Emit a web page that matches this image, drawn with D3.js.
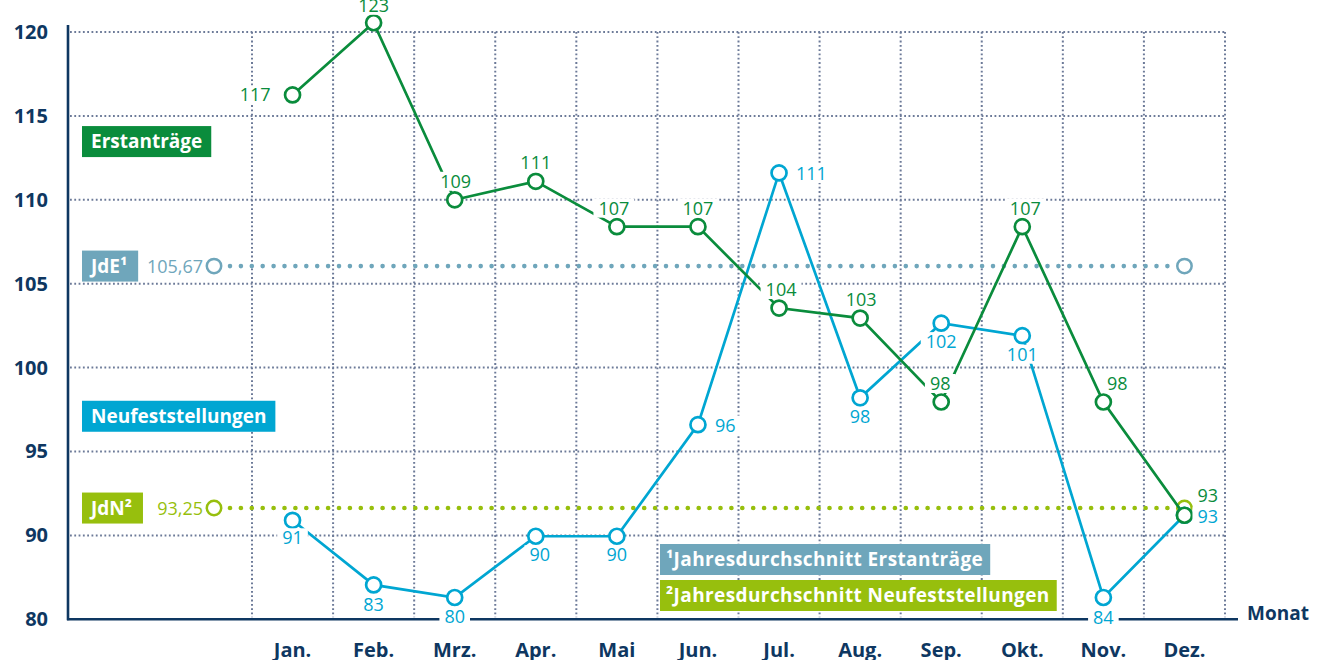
<!DOCTYPE html>
<html>
<head>
<meta charset="utf-8">
<script src="https://cdn.jsdelivr.net/npm/d3@7"></script>
<style>
  body { margin: 0; background: #fff; }
  svg { display: block; }
</style>
</head>
<body>
<svg></svg>
<script>

// data
const months = ["Jan.", "Feb.", "Mrz.", "Apr.", "Mai", "Jun.", "Jul.", "Aug.", "Sep.", "Okt.", "Nov.", "Dez."];

// printed value labels
const erstLabels = [117, 123, 109, 111, 107, 107, 104, 103, 98, 107, 98, 93];
const neuLabels = [91, 83, 80, 90, 90, 96, 111, 98, 102, 101, 84, 93];

// where the points actually sit against the axis
const erstPlot = [116.25, 120.55, 110.0, 111.1, 108.4, 108.4, 103.55, 102.95, 97.95, 108.4, 97.95, 91.2];
const neuPlot = [90.9, 87.05, 86.3, 89.95, 89.95, 96.6, 111.6, 98.2, 102.65, 101.9, 86.3, 91.2];

// yearly averages (JdE, JdN)
const avgNames = ["JdE\u00b9", "JdN\u00b2"];
const avgLabels = ["105,67", "93,25"];
const avgPlot = [106.05, 91.63];

const yTicks = [85, 90, 95, 100, 105, 110, 115, 120];
const yTickLabels = ["80", "90", "95", "100", "105", "110", "115", "120"];

const footnotes = ["\u00b9Jahresdurchschnitt Erstanträge", "\u00b2Jahresdurchschnitt Neufeststellungen"];


const w = 1327;
const h = 660;
const font = "'Open Sans', 'Noto Sans', sans-serif";

const navy = "#0e3761";
const gridCol = "#6c7a98";
const green = "#0a8c3c";
const cyan = "#00a6d2";
const teal = "#6fa6bb";
const lime = "#97bf0d";

let svg = d3.select("svg")
    .attr("width", w)
    .attr("height", h)
    .style("font-family", font);

let x = d3.scaleBand()
    .domain(months)
    .range([252, 1225]);

let y = d3.scaleLinear()
    .domain([85, 120])
    .range([619.3, 32]);

const cx = m => x(m) + x.bandwidth() / 2;


// dotted grid
svg.append("g")
   .selectAll("line")
   .data(yTicks.slice(1))
   .join("line")
   .attr("x1", 70)
   .attr("x2", x.range()[1])
   .attr("y1", d => y(d))
   .attr("y2", d => y(d))
   .attr("stroke", gridCol)
   .attr("stroke-width", 2)
   .attr("stroke-dasharray", "1.8 2.5");

svg.append("g")
   .selectAll("line")
   .data(months.map(m => x(m)).concat([x.range()[1]]))
   .join("line")
   .attr("x1", d => d)
   .attr("x2", d => d)
   .attr("y1", y(120))
   .attr("y2", y(85) - 2)
   .attr("stroke", gridCol)
   .attr("stroke-width", 2)
   .attr("stroke-dasharray", "1.8 2.5");


// axes
let yAxis = d3.axisLeft(y)
    .tickValues(yTicks)
    .tickFormat((d, i) => yTickLabels[i])
    .tickSize(0)
    .tickPadding(20);

svg.append("g")
   .attr("transform", "translate(68,0)")
   .call(yAxis)
   .call(g => g.select(".domain").remove())
   .attr("font-family", font)
   .attr("font-size", 20)
   .attr("font-weight", 700)
   .selectAll("text")
   .attr("fill", navy);

let xAxis = d3.axisBottom(x)
    .tickSize(0)
    .tickPadding(24);

svg.append("g")
   .attr("transform", `translate(0,${y(85)})`)
   .call(xAxis)
   .call(g => g.select(".domain").remove())
   .attr("font-family", font)
   .attr("font-size", 20)
   .attr("font-weight", 700)
   .selectAll("text")
   .attr("fill", navy);

svg.append("line")
   .attr("x1", 68).attr("x2", 68)
   .attr("y1", 25).attr("y2", y(85) + 1)
   .attr("stroke", navy).attr("stroke-width", 2.6);

svg.append("line")
   .attr("x1", 67).attr("x2", 1238)
   .attr("y1", y(85)).attr("y2", y(85))
   .attr("stroke", navy).attr("stroke-width", 2.6);

svg.append("text")
   .attr("x", 1247)
   .attr("y", 620)
   .attr("font-size", 19)
   .attr("font-weight", 700)
   .attr("fill", navy)
   .text("Monat");


// coloured tags
const tag = (x0, yc, color, txt, size) => {
    let g = svg.append("g");
    let r = g.append("rect").attr("fill", color);
    let t = g.append("text")
             .attr("x", x0 + 9)
             .attr("y", yc)
             .attr("dy", "0.36em")
             .attr("font-size", size)
             .attr("font-weight", 700)
             .attr("fill", "#fff")
             .text(txt);
    let bb = t.node().getBBox();
    r.attr("x", x0)
     .attr("y", yc - 15.5)
     .attr("width", bb.width + 18)
     .attr("height", 31);
    return g;
};


// yearly average lines
const avgCols = [teal, lime];

avgPlot.forEach((v, i) => {
    let yy = y(v);
    let xl = 214;
    let xr = cx(months[months.length - 1]);

    svg.append("line")
       .attr("x1", xl + 16)
       .attr("x2", xr - 14)
       .attr("y1", yy)
       .attr("y2", yy)
       .attr("stroke", avgCols[i])
       .attr("stroke-width", 4.6)
       .attr("stroke-linecap", "round")
       .attr("stroke-dasharray", "0 10.9");

    svg.selectAll(null)
       .data([xl, xr])
       .enter()
       .append("circle")
       .attr("cx", d => d)
       .attr("cy", yy)
       .attr("r", 7.2)
       .attr("fill", "#fff")
       .attr("stroke", avgCols[i])
       .attr("stroke-width", 2.5);

    svg.append("text")
       .attr("x", xl - 11)
       .attr("y", yy)
       .attr("dy", "0.36em")
       .attr("text-anchor", "end")
       .attr("font-size", 18)
       .attr("fill", avgCols[i])
       .text(avgLabels[i]);

    tag(82, yy, avgCols[i], avgNames[i], 19);
});

tag(82, y(113.47), green, "Erstanträge", 19);
tag(82, y(97.1), cyan, "Neufeststellungen", 19);

// footnote boxes
footnotes.forEach((f, i) => {
    let g = tag(660, 559.5 + i * 36, [teal, lime][i], f, 19);
    g.select("text").attr("x", 666).attr("letter-spacing", 0.4);
    let bb = g.select("text").node().getBBox();
    g.select("rect").attr("width", bb.width + 13);
});


// series lines
let line = d3.line()
    .x((d, i) => cx(months[i]))
    .y(d => y(d));

svg.append("path")
   .datum(neuPlot)
   .attr("d", line)
   .attr("fill", "none")
   .attr("stroke", cyan)
   .attr("stroke-width", 2.7);

svg.append("path")
   .datum(erstPlot)
   .attr("d", line)
   .attr("fill", "none")
   .attr("stroke", green)
   .attr("stroke-width", 2.7);


// markers
const markers = (vals, color) => {
    svg.append("g")
       .selectAll("circle")
       .data(vals)
       .join("circle")
       .attr("cx", (d, i) => cx(months[i]))
       .attr("cy", d => y(d))
       .attr("r", 7.5)
       .attr("fill", "#fff")
       .attr("stroke", color)
       .attr("stroke-width", 2.7);
};

markers(neuPlot, cyan);
markers(erstPlot, green);


// value labels: [anchor, dx, dy]
const erstPlace = [
    ["end", -22, 6.5], ["middle", 0, -11], ["middle", 1, -12], ["middle", 0, -12],
    ["middle", -3, -12], ["middle", 0, -12], ["middle", 2, -12], ["middle", 1, -12],
    ["middle", -1, -12], ["middle", 3, -12], ["middle", 14, -12], ["start", 13, -13]
];
const neuPlace = [
    ["middle", 0, 24], ["middle", 0, 26], ["middle", 0, 26], ["middle", 4, 25],
    ["middle", 0, 25], ["start", 17, 7], ["start", 17, 7], ["middle", 0, 25],
    ["middle", 0, 25], ["middle", 0, 25], ["middle", 0, 27], ["start", 13, 8]
];

const valueLabels = (vals, labels, place, color) => {
    let g = svg.append("g");
    vals.forEach((v, i) => {
        let p = place[i];
        let r = g.append("rect").attr("fill", "#fff");
        let t = g.append("text")
                 .attr("x", cx(months[i]) + p[1])
                 .attr("y", y(v) + p[2])
                 .attr("text-anchor", p[0])
                 .attr("font-size", 18)
                 .attr("fill", color)
                 .text(labels[i]);
        let bb = t.node().getBBox();
        r.attr("x", bb.x - 5)
         .attr("y", bb.y + 3)
         .attr("width", bb.width + 10)
         .attr("height", bb.height - 5);
    });
};

valueLabels(erstPlot, erstLabels, erstPlace, green);
valueLabels(neuPlot, neuLabels, neuPlace, cyan);

</script>
</body>
</html>
